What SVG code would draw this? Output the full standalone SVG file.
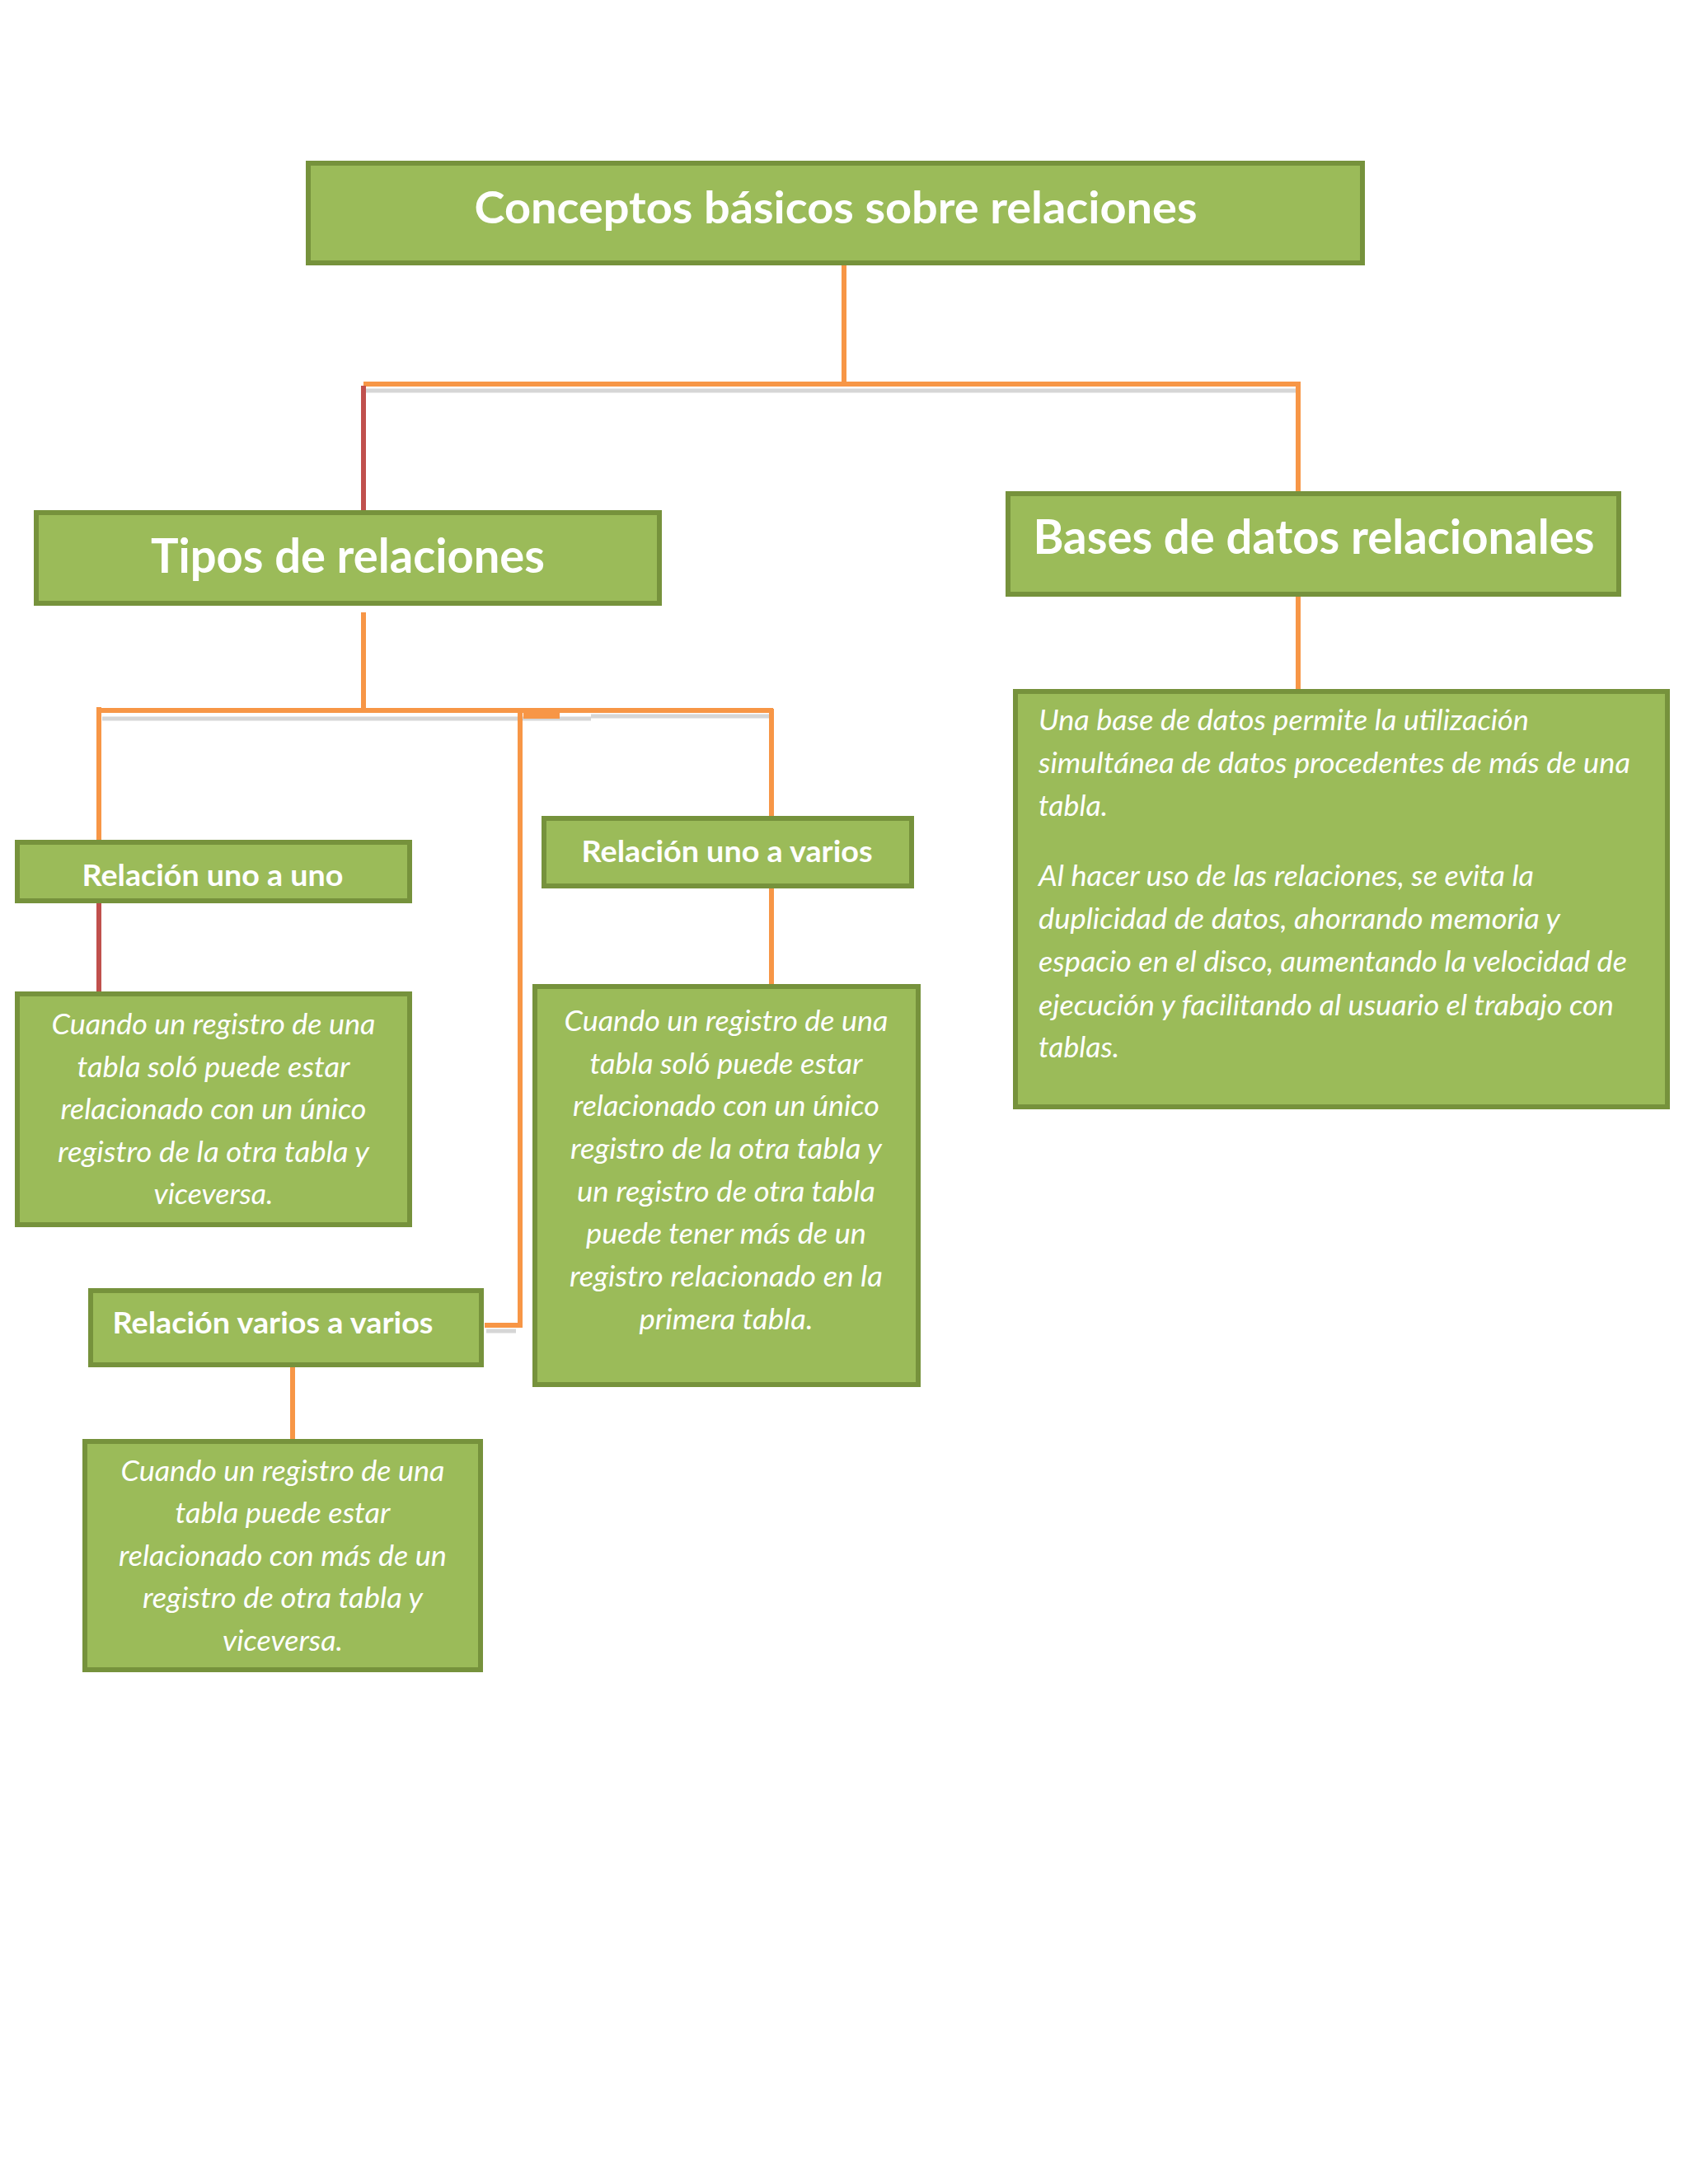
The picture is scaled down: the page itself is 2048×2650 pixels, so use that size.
<svg xmlns="http://www.w3.org/2000/svg" width="2048" height="2650" viewBox="0 0 2048 2650">
<style>
.box{fill:#9BBB59;stroke:#76923C;stroke-width:6}
.h{font-family:Lato,"Open Sans","Liberation Sans",sans-serif;font-weight:bold;fill:#FFFFFF;text-anchor:middle}
.b{font-family:Lato,"Open Sans","Liberation Sans",sans-serif;font-style:italic;fill:#FFFFFF;font-size:34px}
.c{text-anchor:middle}
.o{stroke:#F79646;stroke-width:6;fill:none}
.r{stroke:#C0504D;stroke-width:6;fill:none}
.s{stroke:#D6D6D6;stroke-width:5;fill:none}
</style>
<rect width="2048" height="2650" fill="#FFFFFF"/>
<g id="connectors">
  <line class="s" x1="444" y1="474" x2="1574" y2="474"/>
  <line class="s" x1="124" y1="872" x2="717" y2="872" stroke="#C8C8C8"/>
  <line class="s" x1="717" y1="869" x2="934" y2="869" stroke="#E0E0E0"/>
  <line class="s" x1="590" y1="1615" x2="626" y2="1615" stroke="#E6E6E6"/>
  <line class="o" x1="1024" y1="322" x2="1024" y2="466"/>
  <line class="o" x1="441" y1="466" x2="1578" y2="466"/>
  <line class="r" x1="441" y1="468" x2="441" y2="619"/>
  <line class="o" x1="1575" y1="464" x2="1575" y2="598"/>
  <line class="o" x1="1575" y1="722" x2="1575" y2="838"/>
  <line class="o" x1="441" y1="743" x2="441" y2="860"/>
  <line class="o" x1="120" y1="862" x2="716" y2="862" stroke-width="10"/>
  <line class="o" x1="716" y1="862" x2="938" y2="862" stroke-width="5"/>
  <rect x="635" y="862" width="44" height="10" fill="#F79646"/>
  <line class="o" x1="120" y1="858" x2="120" y2="1021"/>
  <line class="o" x1="936" y1="860" x2="936" y2="992"/>
  <polyline class="o" points="631,864 631,1608 588,1608"/>
  <line class="r" x1="120" y1="1096" x2="120" y2="1203"/>
  <line class="o" x1="936" y1="1078" x2="936" y2="1196"/>
  <line class="o" x1="355" y1="1659" x2="355" y2="1748"/>
</g>
<g id="title">
  <rect class="box" x="374" y="198" width="1279" height="121"/>
  <text class="h" x="1014" y="271" font-size="54" textLength="877" lengthAdjust="spacingAndGlyphs">Conceptos básicos sobre relaciones</text>
</g>
<g id="tipos">
  <rect class="box" x="44" y="622" width="756" height="110"/>
  <text class="h" x="422" y="695" font-size="57" textLength="478" lengthAdjust="spacingAndGlyphs">Tipos de relaciones</text>
</g>
<g id="bases">
  <rect class="box" x="1223" y="599" width="741" height="122"/>
  <text class="h" x="1594" y="672" font-size="57" textLength="681" lengthAdjust="spacingAndGlyphs">Bases de datos relacionales</text>
</g>
<g id="bases-desc">
  <rect class="box" x="1232" y="839" width="791" height="504"/>
  <text class="b" x="1260" y="886" textLength="595" lengthAdjust="spacingAndGlyphs">Una base de datos permite la utilización</text>
  <text class="b" x="1260" y="938" textLength="718" lengthAdjust="spacingAndGlyphs">simultánea de datos procedentes de más de una</text>
  <text class="b" x="1260" y="990" textLength="84" lengthAdjust="spacingAndGlyphs">tabla.</text>
  <text class="b" x="1260" y="1075" textLength="601" lengthAdjust="spacingAndGlyphs">Al hacer uso de las relaciones, se evita la</text>
  <text class="b" x="1260" y="1127" textLength="633" lengthAdjust="spacingAndGlyphs">duplicidad de datos, ahorrando memoria y</text>
  <text class="b" x="1260" y="1179" textLength="714" lengthAdjust="spacingAndGlyphs">espacio en el disco, aumentando la velocidad de</text>
  <text class="b" x="1260" y="1232" textLength="698" lengthAdjust="spacingAndGlyphs">ejecución y facilitando al usuario el trabajo con</text>
  <text class="b" x="1260" y="1283" textLength="98" lengthAdjust="spacingAndGlyphs">tablas.</text>
</g>
<g id="uno-a-uno">
  <rect class="box" x="21" y="1022" width="476" height="71"/>
  <text class="h" x="258" y="1075" font-size="36" textLength="317" lengthAdjust="spacingAndGlyphs">Relación uno a uno</text>
</g>
<g id="uno-a-uno-desc">
  <rect class="box" x="21" y="1206" width="476" height="280"/>
  <text class="b c" x="259" y="1255" textLength="393" lengthAdjust="spacingAndGlyphs">Cuando un registro de una</text>
  <text class="b c" x="259" y="1307" textLength="331" lengthAdjust="spacingAndGlyphs">tabla soló puede estar</text>
  <text class="b c" x="259" y="1358" textLength="371" lengthAdjust="spacingAndGlyphs">relacionado con un único</text>
  <text class="b c" x="259" y="1410" textLength="378" lengthAdjust="spacingAndGlyphs">registro de la otra tabla y</text>
  <text class="b c" x="259" y="1461" textLength="145" lengthAdjust="spacingAndGlyphs">viceversa.</text>
</g>
<g id="uno-a-varios">
  <rect class="box" x="660" y="993" width="446" height="82"/>
  <text class="h" x="882" y="1046" font-size="36" textLength="353" lengthAdjust="spacingAndGlyphs">Relación uno a varios</text>
</g>
<g id="uno-a-varios-desc">
  <rect class="box" x="649" y="1197" width="465" height="483"/>
  <text class="b c" x="881" y="1251" textLength="393" lengthAdjust="spacingAndGlyphs">Cuando un registro de una</text>
  <text class="b c" x="881" y="1303" textLength="331" lengthAdjust="spacingAndGlyphs">tabla soló puede estar</text>
  <text class="b c" x="881" y="1354" textLength="372" lengthAdjust="spacingAndGlyphs">relacionado con un único</text>
  <text class="b c" x="881" y="1406" textLength="378" lengthAdjust="spacingAndGlyphs">registro de la otra tabla y</text>
  <text class="b c" x="881" y="1458" textLength="362" lengthAdjust="spacingAndGlyphs">un registro de otra tabla</text>
  <text class="b c" x="881" y="1509" textLength="340" lengthAdjust="spacingAndGlyphs">puede tener más de un</text>
  <text class="b c" x="881" y="1561" textLength="380" lengthAdjust="spacingAndGlyphs">registro relacionado en la</text>
  <text class="b c" x="881" y="1613" textLength="211" lengthAdjust="spacingAndGlyphs">primera tabla.</text>
</g>
<g id="varios-a-varios">
  <rect class="box" x="110" y="1566" width="474" height="90"/>
  <text class="h" x="331" y="1618" font-size="36" textLength="389" lengthAdjust="spacingAndGlyphs">Relación varios a varios</text>
</g>
<g id="varios-a-varios-desc">
  <rect class="box" x="103" y="1749" width="480" height="277"/>
  <text class="b c" x="343" y="1797" textLength="393" lengthAdjust="spacingAndGlyphs">Cuando un registro de una</text>
  <text class="b c" x="343" y="1848" textLength="261" lengthAdjust="spacingAndGlyphs">tabla puede estar</text>
  <text class="b c" x="343" y="1900" textLength="398" lengthAdjust="spacingAndGlyphs">relacionado con más de un</text>
  <text class="b c" x="343" y="1951" textLength="340" lengthAdjust="spacingAndGlyphs">registro de otra tabla y</text>
  <text class="b c" x="343" y="2003" textLength="146" lengthAdjust="spacingAndGlyphs">viceversa.</text>
</g>
</svg>
